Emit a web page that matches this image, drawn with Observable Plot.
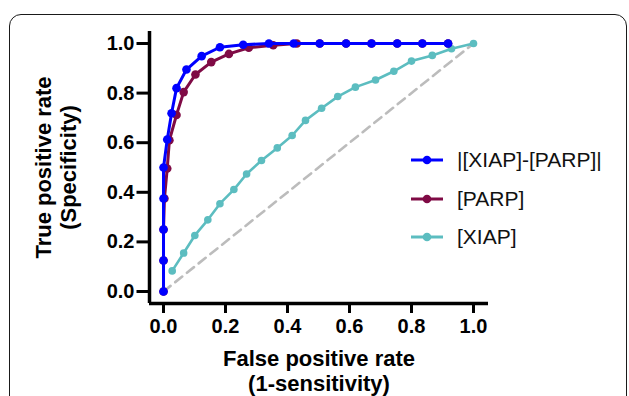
<!DOCTYPE html>
<html>
<head>
<meta charset="utf-8">
<script src="https://cdn.jsdelivr.net/npm/d3@7"></script>
<script src="https://cdn.jsdelivr.net/npm/@observablehq/plot@0.6"></script>
<style>
  html, body { margin: 0; padding: 0; background: #fff; }
  #wrap { position: relative; width: 629px; height: 396px; overflow: hidden; font-family: "Liberation Sans", Arial, Helvetica, sans-serif; }
  #frame { position: absolute; left: 9px; top: 14px; width: 616px; height: 500px; border: 1.6px solid #1a1a1a; border-radius: 12px; pointer-events: none; }
  #legend { position: absolute; left: 411px; top: 141px; }
  .row { display: flex; align-items: center; height: 38.5px; }
  .row svg { margin-right: 14px; }
  .row span { font-size: 21px; color: #111; }
  svg.plot { background: transparent; }
</style>
</head>
<body>
<div id="wrap"></div>
<script>
// ---- data ----
const seriesNames = ["|[XIAP]-[PARP]|", "[PARP]", "[XIAP]"];
const seriesColors = ["#0000ff", "#7f0a45", "#5cbdc0"];

const diffX = [0, 0, 0, 0, 0, 0.012, 0.026, 0.042, 0.074, 0.123, 0.182, 0.257, 0.34, 0.42, 0.504, 0.589, 0.671, 0.754, 0.835, 0.918];
const diffY = [0, 0.125, 0.25, 0.375, 0.5, 0.613, 0.719, 0.82, 0.895, 0.949, 0.985, 0.995, 1, 1, 1, 1, 1, 1, 1, 1];

const parpX = [0, 0, 0, 0.003, 0.012, 0.019, 0.042, 0.065, 0.103, 0.154, 0.211, 0.275, 0.354, 0.43, 0.504, 0.589, 0.671, 0.754, 0.835, 0.918];
const parpY = [0, 0.125, 0.25, 0.375, 0.496, 0.61, 0.712, 0.804, 0.875, 0.925, 0.958, 0.983, 0.993, 1, 1, 1, 1, 1, 1, 1];

const xiapX = [0.028, 0.065, 0.101, 0.143, 0.182, 0.227, 0.268, 0.316, 0.367, 0.415, 0.458, 0.51, 0.562, 0.619, 0.684, 0.743, 0.8, 0.867, 0.929, 1.0];
const xiapY = [0.083, 0.155, 0.226, 0.289, 0.354, 0.411, 0.474, 0.528, 0.579, 0.629, 0.69, 0.739, 0.786, 0.824, 0.853, 0.888, 0.929, 0.952, 0.979, 1.0];

const refX = [0, 1];
const refY = [0, 1];

const xTicks = [0, 0.2, 0.4, 0.6, 0.8, 1.0];
const yTicks = [0, 0.2, 0.4, 0.6, 0.8, 1.0];

const xLabel = "False positive rate\n(1-sensitivity)";
const yLabel = "True positive rate\n(Specificity)";

// ---- build ----
const toPts = (xs, ys) => xs.map((x, i) => ({x, y: ys[i]}));
const diff = toPts(diffX, diffY);
const parp = toPts(parpX, parpY);
const xiap = toPts(xiapX, xiapY);
const ref = toPts(refX, refY);

const xDomain = [-0.0452, 1.0484];
const yDomain = [-0.0484, 1.0484];
const font = "'Liberation Sans', Arial, Helvetica, sans-serif";

const chart = Plot.plot({
  width: 629,
  height: 396,
  marginLeft: 149,
  marginRight: 141,
  marginTop: 31,
  marginBottom: 93,
  style: { fontFamily: font, background: "transparent", overflow: "visible" },
  x: { domain: xDomain },
  y: { domain: yDomain },
  marks: [
    Plot.line(ref, { x: "x", y: "y", stroke: "#bcbcbc", strokeWidth: 2.6, strokeDasharray: "9,6" }),
    Plot.line(xiap, { x: "x", y: "y", stroke: seriesColors[2], strokeWidth: 2.6 }),
    Plot.dot(xiap, { x: "x", y: "y", fill: seriesColors[2], r: 3.8 }),
    Plot.line(parp, { x: "x", y: "y", stroke: seriesColors[1], strokeWidth: 3 }),
    Plot.dot(parp, { x: "x", y: "y", fill: seriesColors[1], r: 4.3 }),
    Plot.line(diff, { x: "x", y: "y", stroke: seriesColors[0], strokeWidth: 3 }),
    Plot.dot(diff, { x: "x", y: "y", fill: seriesColors[0], r: 4.3 }),
    Plot.ruleX([xDomain[0]], { y1: yDomain[0], y2: yDomain[1], stroke: "#000", strokeWidth: 3.5 }),
    Plot.ruleY([yDomain[0]], { x1: xDomain[0], x2: xDomain[1], stroke: "#000", strokeWidth: 3.5 }),
    Plot.axisX({ ticks: xTicks, tickFormat: d3.format(".1f"), anchor: "bottom", tickSize: 10, tickPadding: 5, strokeWidth: 3, stroke: "#000", fontSize: 20, fontWeight: "bold", fill: "#000", label: null }),
    Plot.axisY({ ticks: yTicks, tickFormat: d3.format(".1f"), anchor: "left", tickSize: 12.5, tickPadding: 2.5, strokeWidth: 3, stroke: "#000", fontSize: 20, fontWeight: "bold", fill: "#000", label: null }),
    Plot.text([xLabel], { frameAnchor: "bottom", textAnchor: "middle", dy: 66.5, lineAnchor: "middle", lineHeight: 1.14, fontSize: 22, fontWeight: "bold", fill: "#000" }),
    Plot.text([yLabel], { frameAnchor: "left", textAnchor: "middle", dx: -94, rotate: -90, lineAnchor: "middle", lineHeight: 1.14, fontSize: 22, fontWeight: "bold", fill: "#000" })
  ]
});

const wrap = document.getElementById("wrap");
wrap.appendChild(chart);

const frame = document.createElement("div");
frame.id = "frame";
wrap.appendChild(frame);

const legend = document.createElement("div");
legend.id = "legend";
seriesNames.forEach((name, i) => {
  const row = document.createElement("div");
  row.className = "row";
  row.innerHTML = `<svg width="32" height="12"><line x1="0" y1="6" x2="32" y2="6" stroke="${seriesColors[i]}" stroke-width="3"/><circle cx="16" cy="6" r="4.3" fill="${seriesColors[i]}"/></svg><span>${name}</span>`;
  legend.appendChild(row);
});
wrap.appendChild(legend);
</script>
</body>
</html>
